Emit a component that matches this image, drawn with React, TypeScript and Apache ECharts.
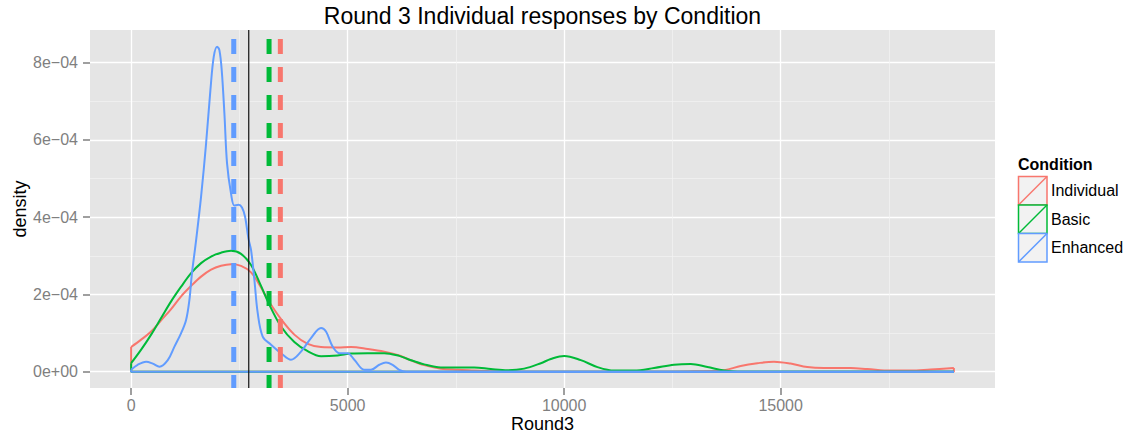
import { useEffect, useRef } from "react";
import * as echarts from "echarts";

// Conditions, their colours and their mean responses
const conditions = ["Individual", "Basic", "Enhanced"];
const conditionColors = ["#F8766D", "#00BA38", "#619CFF"];
const conditionMeans = [3446, 3185, 2370];
const overallMean = 2716;

// Kernel density estimates of Round3 for each condition
const individualX = [0, 231, 462, 692, 923, 1154, 1385, 1615, 1846, 2077, 2308, 2538, 2769, 3000, 3154, 3462, 3769, 4077, 4385, 4769, 5077, 5462, 5846, 6192, 6385, 6769, 7154, 7538, 7923, 8308, 8692, 9500, 10500, 11500, 12500, 13000, 13692, 14077, 14462, 14846, 15231, 15615, 16000, 16615, 17000, 17538, 18000, 18462, 19000];
const individualY = [6.4e-5, 8.3e-5, 1.04e-4, 1.33e-4, 1.62e-4, 1.95e-4, 2.22e-4, 2.46e-4, 2.64e-4, 2.74e-4, 2.78e-4, 2.74e-4, 2.57e-4, 2.18e-4, 1.87e-4, 1.36e-4, 9.6e-5, 7.2e-5, 6.4e-5, 6.3e-5, 6.4e-5, 5.9e-5, 5.2e-5, 4.2e-5, 3.3e-5, 1.7e-5, 8e-6, 5e-6, 3e-6, 1e-6, 0, 0, 0, 0, 0, 1e-6, 4e-6, 1.5e-5, 2.2e-5, 2.6e-5, 2.1e-5, 1.2e-5, 9.5e-6, 9.5e-6, 7e-6, 3e-6, 3e-6, 6e-6, 9.5e-6];

const basicX = [0, 231, 462, 692, 923, 1154, 1385, 1615, 1846, 2077, 2308, 2538, 2769, 3000, 3154, 3462, 3769, 4077, 4385, 4769, 5077, 5462, 5846, 6192, 6385, 6769, 7154, 7538, 7923, 8308, 8692, 9077, 9462, 9692, 10000, 10385, 10769, 11154, 11615, 12077, 12538, 12923, 13308, 13692, 14000, 19000];
const basicY = [2.2e-5, 5.7e-5, 9.6e-5, 1.39e-4, 1.82e-4, 2.2e-4, 2.55e-4, 2.81e-4, 2.98e-4, 3.08e-4, 3.13e-4, 3.05e-4, 2.76e-4, 2.22e-4, 1.82e-4, 1.17e-4, 7.7e-5, 5.3e-5, 4.0e-5, 4.2e-5, 4.7e-5, 4.8e-5, 4.8e-5, 4.1e-5, 3.3e-5, 1.9e-5, 1.1e-5, 1.1e-5, 1.1e-5, 7e-6, 4e-6, 8e-6, 2.2e-5, 3.3e-5, 4.1e-5, 3.0e-5, 1.2e-5, 3e-6, 3e-6, 9.5e-6, 1.8e-5, 2.0e-5, 1.2e-5, 3e-6, 0, 0];

const enhancedX = [0, 150, 346, 500, 654, 846, 1000, 1154, 1269, 1346, 1400, 1500, 1615, 1731, 1831, 1908, 1985, 2038, 2092, 2154, 2215, 2308, 2385, 2480, 2560, 2631, 2708, 2769, 2846, 2923, 3038, 3231, 3462, 3692, 3923, 4154, 4385, 4500, 4654, 4808, 5000, 5154, 5385, 5538, 5731, 5885, 6038, 6192, 6350, 19000];
const enhancedY = [5e-6, 1.8e-5, 2.6e-5, 2.1e-5, 1.3e-5, 3.0e-5, 6.5e-5, 1.0e-4, 1.34e-4, 1.86e-4, 2.5e-4, 3.4e-4, 4.53e-4, 5.91e-4, 7.29e-4, 8.15e-4, 8.41e-4, 8.32e-4, 7.8e-4, 6.68e-4, 5.39e-4, 4.6e-4, 4.3e-4, 4.32e-4, 4.25e-4, 4.01e-4, 3.45e-4, 3.15e-4, 2.38e-4, 1.52e-4, 9.1e-5, 7.0e-5, 4.8e-5, 3.1e-5, 5.2e-5, 8.7e-5, 1.13e-4, 1.04e-4, 6.5e-5, 4.8e-5, 4.8e-5, 3.1e-5, 5e-6, 5e-6, 1.8e-5, 2.4e-5, 1.8e-5, 5e-6, 0, 0];

// Axis ranges and ticks
const xRange = [-950, 19950];
const yRange = [-4.21e-5, 8.841e-4];
const xTicks = [0, 5000, 10000, 15000];
const xMinorTicks = [2500, 7500, 12500, 17500];
const yTicks = [0, 2e-4, 4e-4, 6e-4, 8e-4];
const yTickLabels = ["0e+00", "2e\u221204", "4e\u221204", "6e\u221204", "8e\u221204"];
const yMinorTicks = [1e-4, 3e-4, 5e-4, 7e-4];

const titleText = "Round 3 Individual responses by Condition";
const xTitle = "Round3";
const yTitle = "density";
const legendTitle = "Condition";

const FONT = "'Liberation Sans', Arial, Helvetica, sans-serif";
const PANEL = { left: 90, top: 30, right: 995, bottom: 388 };

export default function App() {
  const ref = useRef<HTMLDivElement>(null);

  useEffect(() => {
    document.body.style.margin = "0";
    if (!ref.current) return;
    const chart = echarts.init(ref.current, undefined, { renderer: "svg" });

    const densities = [
      { xs: individualX, ys: individualY },
      { xs: basicX, ys: basicY },
      { xs: enhancedX, ys: enhancedY },
    ];

    const series: any[] = [];
    densities.forEach((d, i) => {
      const color = conditionColors[i];
      const last = d.xs.length - 1;
      series.push({
        type: "line",
        name: conditions[i],
        data: d.xs.map((x, j) => [x, d.ys[j]]),
        smooth: 0.35,
        symbol: "none",
        silent: true,
        lineStyle: { color, width: 2 },
      });
      // outline of the density polygon: left side, baseline, right side
      series.push({
        type: "line",
        data: [
          [d.xs[0], d.ys[0]],
          [d.xs[0], 0],
          [d.xs[last], 0],
          [d.xs[last], d.ys[last]],
        ],
        symbol: "none",
        silent: true,
        lineStyle: { color, width: 2 },
      });
    });

    conditionMeans.forEach((m, i) => {
      series.push({
        type: "line",
        data: [
          [m, yRange[0]],
          [m, yRange[1]],
        ],
        symbol: "none",
        silent: true,
        lineStyle: { color: conditionColors[i], width: 5, type: [15, 13], dashOffset: 2, cap: "butt" },
      });
    });
    series.push({
      type: "line",
      data: [
        [overallMean, yRange[0]],
        [overallMean, yRange[1]],
      ],
      symbol: "none",
      silent: true,
      lineStyle: { color: "#111111", width: 1.2 },
    });

    const labelStyle = { color: "#7F7F7F", fontSize: 16, fontFamily: FONT };

    const graphic: any[] = [
      {
        type: "text",
        x: (PANEL.left + PANEL.right) / 2,
        y: 16,
        style: { text: titleText, fill: "#000", font: `23px ${FONT}`, align: "center", verticalAlign: "middle" },
      },
      {
        type: "text",
        x: (PANEL.left + PANEL.right) / 2,
        y: 424,
        style: { text: xTitle, fill: "#000", font: `18px ${FONT}`, align: "center", verticalAlign: "middle" },
      },
      {
        type: "text",
        x: 20,
        y: (PANEL.top + PANEL.bottom) / 2,
        rotation: Math.PI / 2,
        style: { text: yTitle, fill: "#000", font: `18px ${FONT}`, align: "center", verticalAlign: "middle" },
      },
      {
        type: "text",
        x: 1018,
        y: 164,
        style: { text: legendTitle, fill: "#000", font: `bold 16px ${FONT}`, align: "left", verticalAlign: "middle" },
      },
    ];
    const keyX = 1018.5;
    const keyY = 176.5;
    const keySize = 28.5;
    conditions.forEach((c, i) => {
      const y0 = keyY + keySize * i;
      graphic.push({
        type: "rect",
        shape: { x: keyX, y: y0, width: keySize, height: keySize },
        style: { fill: "#F2F2F2", stroke: conditionColors[i], lineWidth: 1.5 },
      });
      graphic.push({
        type: "line",
        shape: { x1: keyX, y1: y0 + keySize, x2: keyX + keySize, y2: y0 },
        style: { stroke: conditionColors[i], lineWidth: 1.5 },
      });
      graphic.push({
        type: "text",
        x: keyX + keySize + 4,
        y: y0 + keySize / 2,
        style: { text: c, fill: "#000", font: `16px ${FONT}`, align: "left", verticalAlign: "middle" },
      });
    });

    chart.setOption({
      animation: false,
      backgroundColor: "#ffffff",
      grid: {
        left: PANEL.left,
        top: PANEL.top,
        right: 1130 - PANEL.right,
        bottom: 437 - PANEL.bottom,
        show: true,
        backgroundColor: "#E5E5E5",
        borderWidth: 0,
        containLabel: false,
        outerBoundsMode: "none",
      },
      xAxis: [
        {
          type: "value",
          min: xRange[0],
          max: xRange[1],
          position: "bottom",
          axisLine: { show: false, onZero: false },
          axisTick: { show: true, customValues: xTicks, length: 7, lineStyle: { color: "#7F7F7F", width: 1.5 } },
          axisLabel: { ...labelStyle, customValues: xTicks, margin: 9, formatter: (v: number) => String(v) },
          splitLine: { show: true, lineStyle: { color: "#FFFFFF", width: 1.3 } },
        },
        {
          type: "value",
          min: xRange[0],
          max: xRange[1],
          position: "bottom",
          axisLine: { show: false, onZero: false },
          axisTick: { show: false, customValues: xMinorTicks },
          axisLabel: { show: false, customValues: xMinorTicks },
          splitLine: { show: true, lineStyle: { color: "#F4F4F4", width: 0.7 } },
        },
      ],
      yAxis: [
        {
          type: "value",
          min: yRange[0],
          max: yRange[1],
          position: "left",
          axisLine: { show: false, onZero: false },
          axisTick: { show: true, customValues: yTicks, length: 7, lineStyle: { color: "#7F7F7F", width: 1.5 } },
          axisLabel: {
            ...labelStyle,
            customValues: yTicks,
            margin: 12,
            formatter: (v: number) => {
              const idx = yTicks.findIndex((t) => Math.abs(t - v) < 1e-9);
              return idx >= 0 ? yTickLabels[idx] : "";
            },
          },
          splitLine: { show: true, lineStyle: { color: "#FFFFFF", width: 1.3 } },
        },
        {
          type: "value",
          min: yRange[0],
          max: yRange[1],
          position: "left",
          axisLine: { show: false, onZero: false },
          axisTick: { show: false, customValues: yMinorTicks },
          axisLabel: { show: false, customValues: yMinorTicks },
          splitLine: { show: true, lineStyle: { color: "#F4F4F4", width: 0.7 } },
        },
      ],
      series,
      graphic,
    });

    return () => chart.dispose();
  }, []);

  return <div ref={ref} style={{ width: 1130, height: 437 }} />;
}
